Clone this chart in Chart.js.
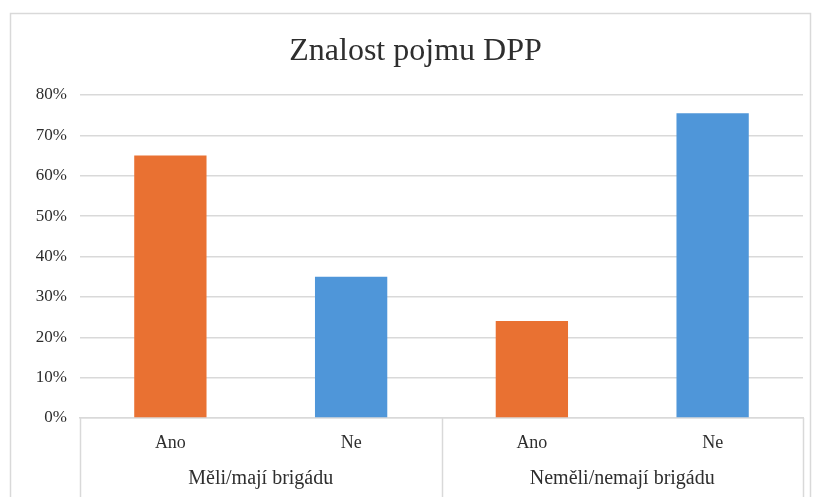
<!DOCTYPE html>
<html>
<head>
<meta charset="utf-8">
<script src="https://cdn.jsdelivr.net/npm/chart.js"></script>
<style>
  html, body { margin: 0; padding: 0; background: #fff; }
  #wrap { width: 813px; height: 497px; position: relative; }
</style>
</head>
<body>
<div id="wrap"><canvas id="barChart" width="813" height="497"></canvas></div>
<script>
"use strict"

// data
const answers = ['Ano', 'Ne', 'Ano', 'Ne'];
const groups = ['Měli/mají brigádu', 'Neměli/nemají brigádu'];
const shares = [65, 35, 24, 75.5];
const yTicks = [0, 10, 20, 30, 40, 50, 60, 70, 80];

const barColors = ['#E97132', '#4F96D9', '#E97132', '#4F96D9'];
const lineGray = '#d9d9d9';
const serif = "'Liberation Serif', 'Times New Roman', serif";

// frame round the chart and the two-level category axis underneath
const groupAxis = {
    id: 'groupAxis',
    beforeDraw(chart) {
        const ctx = chart.ctx;
        ctx.save();
        ctx.fillStyle = '#fff';
        ctx.fillRect(0, 0, chart.width, chart.height);
        ctx.strokeStyle = lineGray;
        ctx.lineWidth = 1.5;
        ctx.strokeRect(10.5, 13.5, 800, chart.height);
        ctx.restore();
    },
    afterDraw(chart) {
        const ctx = chart.ctx;
        const x = chart.scales.x;
        const per = answers.length / groups.length;
        const step = (x.right - x.left) / answers.length;
        ctx.save();
        ctx.strokeStyle = lineGray;
        ctx.lineWidth = 1.5;
        for (let g = 0; g <= groups.length; g++) {
            const px = Math.round(x.left + g * per * step) + 0.5;
            ctx.beginPath();
            ctx.moveTo(px, x.top);
            ctx.lineTo(px, chart.height);
            ctx.stroke();
        }
        ctx.fillStyle = '#2e2e2e';
        ctx.font = '20px ' + serif;
        ctx.textAlign = 'center';
        ctx.textBaseline = 'middle';
        groups.forEach((name, g) => {
            const cx = x.left + (g + 0.5) * per * step;
            ctx.fillText(name, cx, x.top + 61);
        });
        ctx.restore();
    }
};

new Chart(
    document.getElementById('barChart'),
    {
        type: 'bar',
        data: {
            labels: answers,
            datasets: [
                {
                    label: 'Znalost pojmu DPP',
                    data: shares,
                    backgroundColor: barColors,
                    barPercentage: 0.4,
                    categoryPercentage: 1
                }
            ]
        },
        options: {
            responsive: false,
            animation: false,
            layout: { padding: { top: 12, left: 28, right: 10, bottom: 0 } },
            plugins: {
                legend: { display: false },
                tooltip: { enabled: false },
                title: {
                    display: true,
                    text: 'Znalost pojmu DPP',
                    color: '#2e2e2e',
                    font: { family: serif, size: 32, weight: 'normal' },
                    padding: { top: 20, bottom: 24.6 }
                }
            },
            scales: {
                x: {
                    grid: { display: false, drawTicks: false },
                    border: { display: true, color: lineGray, width: 1.5 },
                    ticks: {
                        color: '#2e2e2e',
                        font: { family: serif, size: 18 },
                        padding: 14
                    },
                    afterFit(scale) { scale.height = 79; }
                },
                y: {
                    min: 0,
                    max: 80,
                    afterBuildTicks(scale) {
                        scale.ticks = yTicks.map(v => ({ value: v }));
                    },
                    grid: { color: lineGray, lineWidth: 1.5, drawTicks: false },
                    border: { display: false },
                    ticks: {
                        color: '#2e2e2e',
                        font: { family: serif, size: 17 },
                        padding: 13,
                        callback: v => v + '%'
                    },
                    afterFit(scale) { scale.width = 52; }
                }
            }
        },
        plugins: [groupAxis]
    }
);
</script>
</body>
</html>
